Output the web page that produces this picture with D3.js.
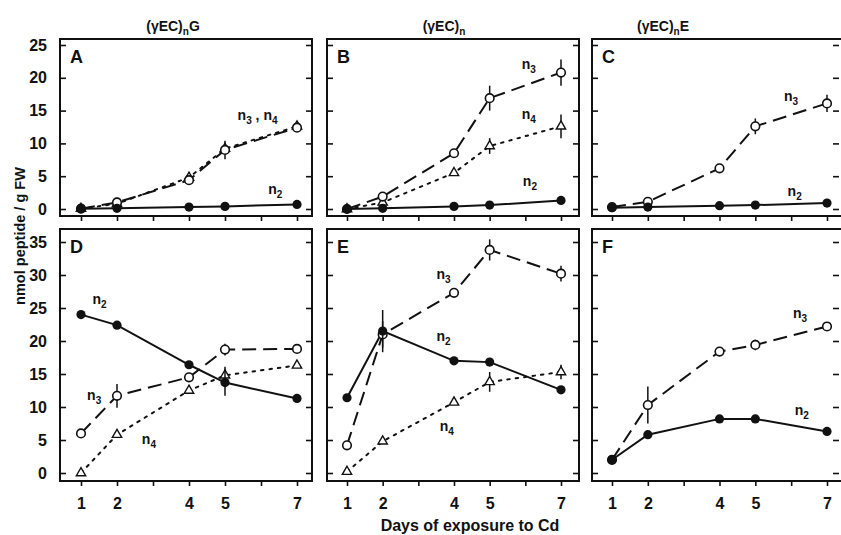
<!DOCTYPE html>
<html><head><meta charset="utf-8">
<script src="https://cdn.jsdelivr.net/npm/d3@7"></script>
<style>body{margin:0;background:#fff}svg{display:block}text{font-family:"Liberation Sans",Arial,sans-serif;fill:#111}</style>
</head><body><svg id="c" width="841" height="535"></svg>
<script>
const days = [1, 2, 4, 5, 7];
const xTicks = [1, 2, 3, 4, 5, 6, 7];
const xTickLabels = [1, 2, 4, 5, 7];
const yTicksTop = [0, 5, 10, 15, 20, 25];
const yTicksBottom = [0, 5, 10, 15, 20, 25, 30, 35];
const columnTitles = [["(γEC)", "n", "G"], ["(γEC)", "n", ""], ["(γEC)", "n", "E"]];

const A_n2 = [0.05, 0.1, 0.3, 0.4, 0.7];
const A_n3 = [0.05, 1.0, 4.4, 9.0, 12.4];
const A_n3_err = [0, 0, 0.5, 1.4, 0.6];
const A_n4 = [0.05, 0.8, 4.8, 9.2, 12.6];
const B_n2 = [0, 0.1, 0.4, 0.6, 1.3];
const B_n3 = [0, 1.9, 8.5, 16.9, 20.8];
const B_n3_err = [0, 0.5, 0.5, 1.9, 2.0];
const B_n4 = [0, 1.0, 5.5, 9.6, 12.6];
const B_n4_err = [0, 0, 0, 1.2, 1.8];
const C_n2 = [0.2, 0.3, 0.5, 0.6, 0.9];
const C_n3 = [0.3, 1.1, 6.2, 12.6, 16.1];
const C_n3_err = [0, 0, 0, 1.2, 1.3];
const D_n2 = [24.0, 22.4, 16.4, 13.7, 11.3];
const D_n2_err = [0, 0, 0, 2.0, 0];
const D_n3 = [6.0, 11.7, 14.5, 18.7, 18.8];
const D_n3_err = [0, 1.8, 0, 0.9, 0.5];
const D_n4 = [0, 5.8, 12.5, 14.8, 16.3];
const D_n4_err = [0, 0, 0, 1.3, 0];
const E_n2 = [11.4, 21.5, 17.0, 16.8, 12.6];
const E_n2_err = [0, 3.2, 0, 0, 0];
const E_n3 = [4.2, 21.0, 27.3, 33.8, 30.2];
const E_n3_err = [0, 2.0, 0, 1.6, 1.2];
const E_n4 = [0.2, 4.8, 10.7, 13.8, 15.3];
const E_n4_err = [0, 0.4, 0, 1.5, 1.1];
const F_n2 = [2.0, 5.8, 8.2, 8.2, 6.3];
const F_n3 = [2.0, 10.3, 18.4, 19.4, 22.2];
const F_n3_err = [0, 2.8, 0, 0.8, 0];

const zeros = [0, 0, 0, 0, 0];

// layout
const cols = [
  {fx0: 60, fx1: 312, d1: 81, d7: 297},
  {fx0: 327, fx1: 579, d1: 347, d7: 561},
  {fx0: 592, fx1: 846, d1: 612, d7: 827}
];
const rows = [
  {fy0: 39, fy1: 216, v0: 209, vTop: 45, max: 25, ticks: yTicksTop},
  {fy0: 229, fy1: 481, v0: 473, vTop: 242, max: 35, ticks: yTicksBottom}
];

const styles = {
  n2: {dash: null, marker: "dot"},
  n3: {dash: "14,7", marker: "circle"},
  n4: {dash: "2.5,6", marker: "tri"}
};

const panels = [
  {letter: "A", c: 0, r: 0, series: [
    {k: "n4", v: A_n4, e: zeros}, {k: "n3", v: A_n3, e: A_n3_err}, {k: "n2", v: A_n2, e: zeros}],
   labels: [{t: [["n", "3"], [" , n", "4"]], d: 5.35, y: 14.2}, {t: [["n", "2"]], d: 6.2, y: 2.9}]},
  {letter: "B", c: 1, r: 0, series: [
    {k: "n4", v: B_n4, e: B_n4_err}, {k: "n3", v: B_n3, e: B_n3_err}, {k: "n2", v: B_n2, e: zeros}],
   labels: [{t: [["n", "3"]], d: 5.9, y: 22}, {t: [["n", "4"]], d: 5.9, y: 14.4}, {t: [["n", "2"]], d: 5.93, y: 4.1}]},
  {letter: "C", c: 2, r: 0, series: [
    {k: "n3", v: C_n3, e: C_n3_err}, {k: "n2", v: C_n2, e: zeros}],
   labels: [{t: [["n", "3"]], d: 5.8, y: 17.1}, {t: [["n", "2"]], d: 5.9, y: 2.6}]},
  {letter: "D", c: 0, r: 1, series: [
    {k: "n4", v: D_n4, e: D_n4_err}, {k: "n3", v: D_n3, e: D_n3_err}, {k: "n2", v: D_n2, e: D_n2_err}],
   labels: [{t: [["n", "2"]], d: 1.32, y: 26.2}, {t: [["n", "3"]], d: 1.17, y: 11.6}, {t: [["n", "4"]], d: 2.69, y: 5.0}]},
  {letter: "E", c: 1, r: 1, series: [
    {k: "n4", v: E_n4, e: E_n4_err}, {k: "n3", v: E_n3, e: E_n3_err}, {k: "n2", v: E_n2, e: E_n2_err}],
   labels: [{t: [["n", "3"]], d: 3.51, y: 30.0}, {t: [["n", "2"]], d: 3.51, y: 20.6}, {t: [["n", "4"]], d: 3.6, y: 7.0}]},
  {letter: "F", c: 2, r: 1, series: [
    {k: "n3", v: F_n3, e: F_n3_err}, {k: "n2", v: F_n2, e: zeros}],
   labels: [{t: [["n", "3"]], d: 6.05, y: 24.1}, {t: [["n", "2"]], d: 6.1, y: 9.4}]}
];

const svg = d3.select("#c");
const FONT = '"Liberation Sans",Arial,sans-serif';

panels.forEach(p => {
  const col = cols[p.c], row = rows[p.r];
  const x = d3.scaleLinear().domain([1, 7]).range([col.d1, col.d7]);
  const y = d3.scaleLinear().domain([0, row.max]).range([row.v0, row.vTop]);
  const g = svg.append("g");

  // frame
  g.append("rect").attr("x", col.fx0).attr("y", row.fy0)
    .attr("width", col.fx1 - col.fx0).attr("height", row.fy1 - row.fy0)
    .attr("fill", "none").attr("stroke", "#111").attr("stroke-width", 2);

  // bottom axis (outward ticks)
  const ax = g.append("g").attr("transform", `translate(0,${row.fy1})`)
    .call(d3.axisBottom(x).tickValues(xTicks).tickSize(5).tickFormat(""));
  ax.select(".domain").remove();
  ax.selectAll("line").attr("stroke", "#111").attr("stroke-width", 1.6);
  if (p.r === 1) {
    const lab = g.append("g").attr("transform", `translate(0,${row.fy1})`)
      .call(d3.axisBottom(x).tickValues(xTickLabels).tickSize(0).tickPadding(17).tickFormat(d3.format("d")));
    lab.select(".domain").remove();
    lab.selectAll("text").attr("font-size", 16).attr("font-weight", "bold")
      .style("font-family", FONT).attr("fill", "#111");
  }

  // left axis inward ticks
  const ay = g.append("g").attr("transform", `translate(${col.fx0},0)`)
    .call(d3.axisLeft(y).tickValues(row.ticks).tickSize(-6).tickPadding(p.c === 0 ? 13 : 3)
      .tickFormat(p.c === 0 ? d3.format("d") : ""));
  ay.select(".domain").remove();
  ay.selectAll("line").attr("stroke", "#111").attr("stroke-width", 1.6);
  ay.selectAll("text").attr("font-size", 16).attr("font-weight", "bold")
    .style("font-family", FONT).attr("fill", "#111");

  // right axis inward ticks
  const ayr = g.append("g").attr("transform", `translate(${p.c === 2 ? 839 : col.fx1},0)`)
    .call(d3.axisRight(y).tickValues(row.ticks).tickSize(-6).tickFormat(""));
  ayr.select(".domain").remove();
  ayr.selectAll("line").attr("stroke", "#111").attr("stroke-width", 1.6);

  // letter
  g.append("text").attr("x", col.fx0 + 10).attr("y", row.fy0 + 24)
    .attr("font-size", 18).attr("font-weight", "bold").text(p.letter);

  const line = d3.line().x((d, i) => x(days[i])).y(d => y(d));
  p.series.forEach(s => {
    const st = styles[s.k];
    g.append("path").datum(s.v).attr("d", line).attr("fill", "none")
      .attr("stroke", "#111").attr("stroke-width", 2)
      .attr("stroke-dasharray", st.dash)
      .attr("stroke-linecap", s.k === "n4" ? "round" : "butt");
  });
  p.series.forEach(s => {
    const st = styles[s.k];
    // error bars
    g.selectAll(null).data(s.v.map((v, i) => ({v, e: s.e[i], d: days[i]})).filter(o => o.e > 0))
      .enter().append("line")
      .attr("x1", o => x(o.d)).attr("x2", o => x(o.d))
      .attr("y1", o => y(o.v - o.e)).attr("y2", o => y(o.v + o.e))
      .attr("stroke", "#111").attr("stroke-width", 1.5);
    const pts = s.v.map((v, i) => ({v, d: days[i]}));
    if (st.marker === "dot") {
      g.selectAll(null).data(pts).enter().append("circle")
        .attr("cx", o => x(o.d)).attr("cy", o => y(o.v)).attr("r", 4.6).attr("fill", "#111");
    } else if (st.marker === "circle") {
      g.selectAll(null).data(pts).enter().append("circle")
        .attr("cx", o => x(o.d)).attr("cy", o => y(o.v)).attr("r", 4.3)
        .attr("fill", "#fff").attr("stroke", "#111").attr("stroke-width", 1.6);
    } else {
      const tri = d3.symbol().type(d3.symbolTriangle).size(38);
      g.selectAll(null).data(pts).enter().append("path")
        .attr("d", tri).attr("transform", o => `translate(${x(o.d)},${y(o.v)})`)
        .attr("fill", "#fff").attr("stroke", "#111").attr("stroke-width", 1.4);
    }
  });

  // series labels
  p.labels.forEach(l => {
    const t = g.append("text").attr("x", x(l.d)).attr("y", y(l.y) + 4)
      .attr("font-size", 14).attr("font-weight", "bold");
    l.t.forEach(([main, sub], j) => {
      t.append("tspan").text(main).attr("dy", j === 0 ? 0 : -4);
      t.append("tspan").text(sub).attr("font-size", 10).attr("dy", 4);
    });
  });
});

// column titles
columnTitles.forEach((ct, i) => {
  const col = cols[i];
  const cx = i === 2 ? 663 : (col.fx0 + col.fx1) / 2 + (i === 1 ? -9 : -13);
  const t = svg.append("text").attr("x", cx).attr("y", 31).attr("text-anchor", "middle")
    .attr("font-size", 14).attr("font-weight", "bold");
  t.append("tspan").text(ct[0]);
  t.append("tspan").text(ct[1]).attr("font-size", 10).attr("dy", 4);
  if (ct[2]) t.append("tspan").text(ct[2]).attr("dy", -4);
});

// axis titles
svg.append("text").attr("x", 470).attr("y", 531).attr("text-anchor", "middle")
  .attr("font-size", 16).attr("font-weight", "bold").text("Days of exposure to Cd");
svg.append("text").attr("transform", "translate(25,236) rotate(-90)").attr("text-anchor", "middle")
  .attr("font-size", 14.5).attr("font-weight", "bold").text("nmol peptide / g FW");
</script></body></html>
